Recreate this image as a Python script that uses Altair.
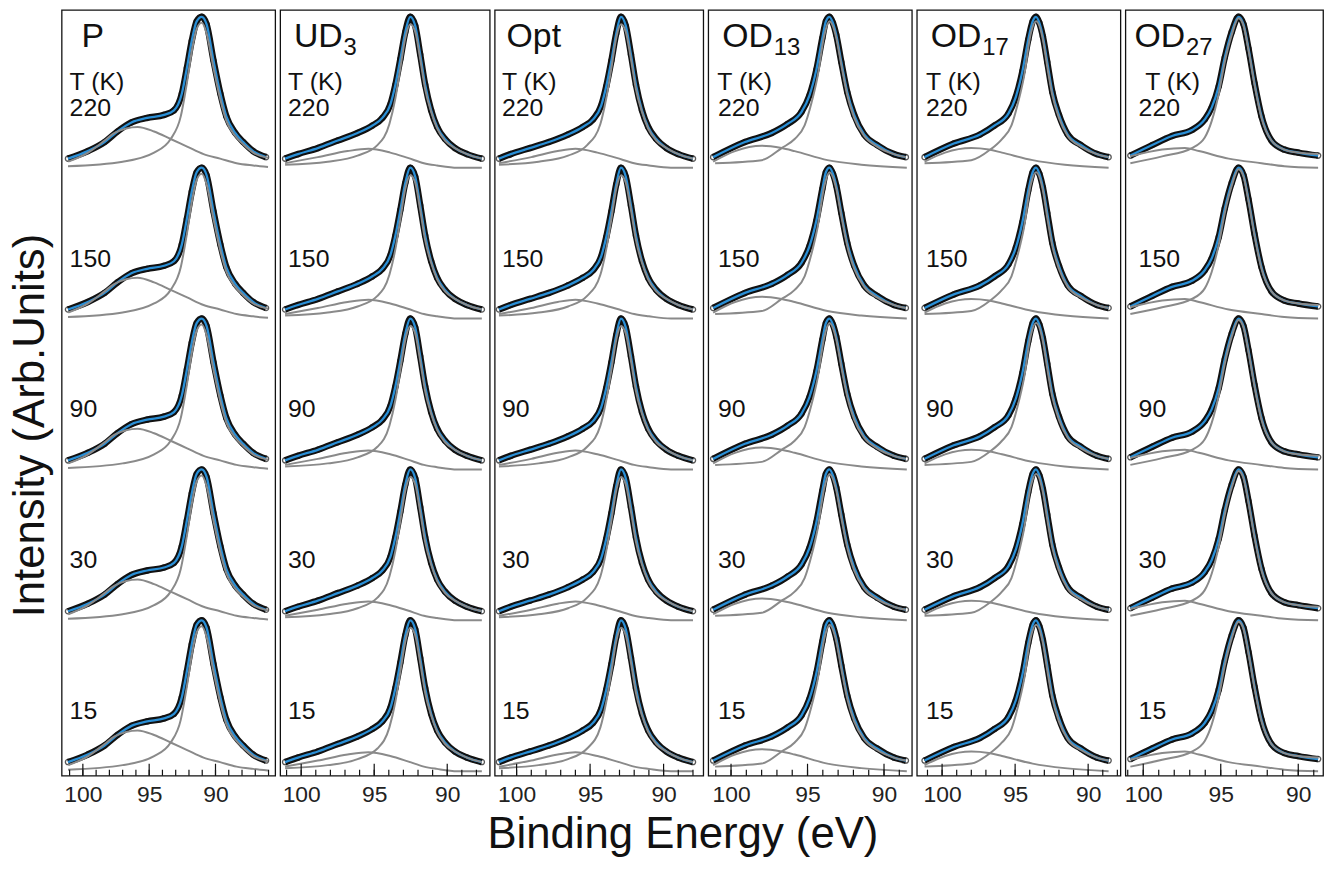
import altair as alt
import pandas as pd

# ---------------- data ----------------
temps = ["220", "150", "90", "30", "15"]
row_offsets = [4, 3, 2, 1, 0]

sample_names = ["P", "UD", "Opt", "OD", "OD", "OD"]
sample_subs = ["", "3", "", "13", "17", "27"]

# P
P_x = [101.12, 99.63, 98.36, 97.39, 96.34, 95.15, 93.88, 93.13, 92.54, 92.16, 91.79,
       91.42, 91.04, 90.67, 90.15, 89.63, 89.18, 88.51, 87.91, 87.16, 86.19]
P_fit = [0.06, 0.11, 0.17, 0.24, 0.30, 0.33, 0.35, 0.38, 0.49, 0.66, 0.84,
         0.97, 1.00, 0.95, 0.71, 0.49, 0.34, 0.23, 0.17, 0.11, 0.07]
P_main_x = [101.12, 97.0, 94.63, 93.38, 92.62, 92.16, 91.79, 91.42, 91.04, 90.67,
            90.15, 89.63, 89.18, 88.51, 87.91, 87.16, 86.04]
P_main = [0.01, 0.04, 0.10, 0.19, 0.34, 0.56, 0.77, 0.92, 0.96, 0.89,
          0.66, 0.45, 0.31, 0.21, 0.155, 0.10, 0.065]
P_broad_x = [101.1, 99.6, 98.36, 97.61, 95.87, 94.63, 93.38, 92.14, 90.9, 89.65, 88.41, 87.16, 86.04]
P_broad = [0.04, 0.10, 0.18, 0.23, 0.27, 0.24, 0.19, 0.14, 0.09, 0.06, 0.03, 0.015, 0.005]

# UD3
UD_x = [101.10, 100.22, 98.86, 97.50, 96.14, 95.12, 94.44, 93.89, 93.55, 93.21, 92.87,
        92.53, 92.19, 91.85, 91.51, 91.10, 90.69, 90.15, 89.47, 88.65, 87.63]
UD_fit = [0.06, 0.09, 0.13, 0.18, 0.23, 0.28, 0.33, 0.42, 0.55, 0.72, 0.90,
          1.00, 0.94, 0.75, 0.55, 0.38, 0.27, 0.19, 0.13, 0.09, 0.06]
UD_main_x = [101.10, 98.18, 96.14, 94.78, 93.96, 93.55, 93.21, 92.87, 92.53, 92.19,
             91.85, 91.51, 91.10, 90.69, 90.15, 89.47, 88.65, 87.63]
UD_main = [0.02, 0.04, 0.08, 0.15, 0.29, 0.46, 0.66, 0.86, 0.95, 0.90,
           0.72, 0.52, 0.37, 0.26, 0.18, 0.13, 0.09, 0.06]
UD_broad_x = [101.10, 98.86, 96.82, 95.40, 93.90, 92.70, 91.60, 90.70, 89.30, 87.63]
UD_broad = [0.03, 0.07, 0.11, 0.125, 0.10, 0.065, 0.03, 0.015, 0.0, 0.0]

# Opt
Opt_x = [101.20, 100.40, 99.10, 97.80, 96.50, 95.50, 94.80, 94.25, 93.90, 93.55, 93.22,
         92.90, 92.57, 92.22, 91.88, 91.47, 91.05, 90.50, 89.80, 89.00, 88.00]
Opt_fit = [0.06, 0.09, 0.13, 0.17, 0.22, 0.27, 0.32, 0.41, 0.54, 0.71, 0.89,
           1.00, 0.94, 0.75, 0.55, 0.38, 0.27, 0.19, 0.13, 0.09, 0.06]
Opt_main_x = [101.20, 98.5, 96.5, 95.2, 94.3, 93.9, 93.55, 93.22, 92.90, 92.57,
              92.22, 91.88, 91.47, 91.05, 90.50, 89.80, 89.00, 88.00]
Opt_main = [0.02, 0.04, 0.08, 0.15, 0.29, 0.46, 0.66, 0.86, 0.95, 0.90,
            0.72, 0.52, 0.37, 0.26, 0.18, 0.13, 0.09, 0.06]
Opt_broad_x = [101.2, 99.0, 97.2, 96.0, 94.5, 93.2, 92.0, 91.0, 89.5, 88.0]
Opt_broad = [0.03, 0.07, 0.11, 0.125, 0.10, 0.065, 0.03, 0.015, 0.0, 0.0]

# OD13
OD13_x = [101.17, 99.09, 97.34, 96.30, 95.39, 94.87, 94.42, 94.03, 93.80, 93.57,
          93.34, 93.12, 92.79, 92.40, 91.95, 91.30, 90.45, 89.35, 88.57]
OD13_fit = [0.07, 0.17, 0.23, 0.29, 0.37, 0.48, 0.65, 0.86, 0.97, 1.00,
            0.96, 0.88, 0.70, 0.50, 0.35, 0.22, 0.15, 0.09, 0.07]
OD13_main_x = [101.04, 97.99, 96.69, 95.84, 95.19, 94.74, 94.35, 93.90, 93.57,
               93.12, 92.79, 92.40, 91.95, 91.30, 90.45, 89.35, 88.57]
OD13_main = [0.03, 0.05, 0.13, 0.19, 0.28, 0.43, 0.60, 0.88, 0.97,
             0.86, 0.68, 0.48, 0.33, 0.21, 0.14, 0.09, 0.07]
OD13_broad_x = [101.17, 99.74, 97.99, 96.69, 95.84, 93.70, 91.49, 88.51]
OD13_broad = [0.04, 0.11, 0.145, 0.13, 0.11, 0.05, 0.02, 0.0]

# OD17
OD17_x = [101.2, 99.2, 97.4, 96.4, 95.45, 94.95, 94.5, 94.1, 93.8, 93.57,
          93.34, 93.1, 92.8, 92.45, 92.0, 91.4, 90.5, 89.4, 88.6]
OD17_fit = [0.07, 0.16, 0.22, 0.28, 0.36, 0.47, 0.64, 0.85, 0.97, 1.00,
            0.96, 0.87, 0.70, 0.50, 0.35, 0.22, 0.15, 0.09, 0.07]
OD17_main_x = [101.2, 98.0, 96.7, 95.9, 95.25, 94.8, 94.4, 93.95, 93.57,
               93.1, 92.8, 92.45, 92.0, 91.4, 90.5, 89.4, 88.6]
OD17_main = [0.03, 0.05, 0.12, 0.19, 0.28, 0.43, 0.60, 0.88, 0.97,
             0.85, 0.67, 0.48, 0.33, 0.21, 0.14, 0.09, 0.07]
OD17_broad_x = [101.2, 99.8, 98.0, 96.8, 95.9, 93.8, 91.6, 88.6]
OD17_broad = [0.04, 0.10, 0.13, 0.12, 0.10, 0.05, 0.02, 0.0]

# OD27
OD27_x = [100.83, 99.42, 98.14, 96.86, 96.03, 95.58, 95.13, 94.74, 94.29, 93.85,
          93.53, 93.21, 92.82, 92.37, 91.73, 90.90, 90.00, 88.72]
OD27_fit = [0.08, 0.15, 0.21, 0.25, 0.32, 0.40, 0.54, 0.73, 0.90, 1.00,
            0.95, 0.79, 0.56, 0.34, 0.18, 0.12, 0.10, 0.08]
OD27_main_x = [100.83, 98.78, 96.86, 96.03, 95.58, 95.13, 94.74, 94.29, 93.85,
               93.53, 93.21, 92.82, 92.37, 91.73, 90.90, 90.00, 88.72]
OD27_main = [0.03, 0.075, 0.13, 0.20, 0.31, 0.49, 0.70, 0.88, 0.99,
             0.94, 0.78, 0.55, 0.33, 0.18, 0.12, 0.10, 0.09]
OD27_broad_x = [100.83, 98.78, 97.31, 96.41, 94.49, 92.37, 90.90, 88.72]
OD27_broad = [0.075, 0.12, 0.13, 0.11, 0.06, 0.03, 0.01, 0.0]

x_label_values = [100, 95, 90]
minor_tick_values = [86, 87, 88, 89, 90, 91, 92, 93, 94, 95, 96, 97, 98, 99, 100, 101]
major_tick_values = [100, 95, 90]

# ---------------- layout settings ----------------
H = 771
Y_DOM = [-0.03, 5.046]
FONT = "Liberation Sans"
BLUE = "#2a8fd6"
GRAY = "#8a8a8a"
INK = "#111111"

panel_specs = [
    dict(dom=[101.6, 85.5], w=215, x=P_x, fit=P_fit, mx=P_main_x, m=P_main, bx=P_broad_x, b=P_broad,
         lab_ev=100.1, tk_ev=101.0, t_ev=101.0, subdx=0),
    dict(dom=[101.44, 87.09], w=211, x=UD_x, fit=UD_fit, mx=UD_main_x, m=UD_main, bx=UD_broad_x, b=UD_broad,
         lab_ev=100.5, tk_ev=100.9, t_ev=100.9, subdx=50),
    dict(dom=[101.49, 87.30], w=210, x=Opt_x, fit=Opt_fit, mx=Opt_main_x, m=Opt_main, bx=Opt_broad_x, b=Opt_broad,
         lab_ev=100.68, tk_ev=101.0, t_ev=101.0, subdx=0),
    dict(dom=[101.49, 88.18], w=205, x=OD13_x, fit=OD13_fit, mx=OD13_main_x, m=OD13_main, bx=OD13_broad_x, b=OD13_broad,
         lab_ev=100.58, tk_ev=100.9, t_ev=100.85, subdx=52),
    dict(dom=[101.73, 87.79], w=205, x=OD17_x, fit=OD17_fit, mx=OD17_main_x, m=OD17_main, bx=OD17_broad_x, b=OD17_broad,
         lab_ev=100.78, tk_ev=101.1, t_ev=101.1, subdx=52),
    dict(dom=[101.15, 88.40], w=199, x=OD27_x, fit=OD27_fit, mx=OD27_main_x, m=OD27_main, bx=OD27_broad_x, b=OD27_broad,
         lab_ev=100.57, tk_ev=99.87, t_ev=100.3, subdx=52),
]


def make_panel(i):
    p = panel_specs[i]
    fit_rows, comp_rows = [], []
    for t, off in zip(temps, row_offsets):
        for ev, v in zip(p["x"], p["fit"]):
            fit_rows.append(dict(ev=ev, v=v + off, T=t))
        for ev, v in zip(p["mx"], p["m"]):
            comp_rows.append(dict(ev=ev, v=v + off, T=t, comp="main"))
        for ev, v in zip(p["bx"], p["b"]):
            comp_rows.append(dict(ev=ev, v=v + off, T=t, comp="broad"))
    fit_df = pd.DataFrame(fit_rows)
    comp_df = pd.DataFrame(comp_rows)

    xs = alt.X("ev:Q", title=None,
               scale=alt.Scale(domain=p["dom"], nice=False, zero=False),
               axis=alt.Axis(values=x_label_values, ticks=False, domain=False, grid=False,
                             labelFontSize=23, labelPadding=8, labelColor="#222",
                             labelFont=FONT, labelFlush=False))
    if i == 0:
        yaxis = alt.Axis(title="Intensity (Arb.Units)", labels=False, ticks=False, domain=False,
                         grid=False, titleFontSize=44, titleFontWeight="normal", titleFont=FONT,
                         titleColor=INK, titlePadding=9, titleY=418, minExtent=0)
    else:
        yaxis = None
    ys = alt.Y("v:Q", scale=alt.Scale(domain=Y_DOM, nice=False, zero=False), axis=yaxis)
    order = alt.Order("ev:Q", sort="descending")

    band = alt.Chart(fit_df).mark_line(color=INK, strokeWidth=6.5, interpolate="monotone").encode(
        x=xs, y=ys, detail="T:N", order=order)
    pts = alt.Chart(fit_df).mark_point(shape="circle", filled=False, color=INK, size=28,
                                       strokeWidth=1.3).encode(x=xs, y=ys)
    fit = alt.Chart(fit_df).mark_line(color=BLUE, strokeWidth=2.3, interpolate="monotone").encode(
        x=xs, y=ys, detail="T:N", order=order)
    comps = alt.Chart(comp_df).mark_line(color=GRAY, strokeWidth=2, interpolate="monotone").encode(
        x=xs, y=ys, detail=["T:N", "comp:N"], order=order)

    lab_df = pd.DataFrame([dict(ev=p["lab_ev"], v=4.80, text=sample_names[i])])
    lab = alt.Chart(lab_df).mark_text(align="left", baseline="alphabetic", fontSize=34, font=FONT,
                                      color=INK).encode(x=xs, y=ys, text="text:N")
    layers = [band, pts, fit, comps, lab]
    if sample_subs[i]:
        sub_df = pd.DataFrame([dict(ev=p["lab_ev"], v=4.80, text=sample_subs[i])])
        layers.append(alt.Chart(sub_df).mark_text(align="left", baseline="alphabetic", fontSize=24,
                                                  font=FONT, color=INK, dx=p["subdx"], dy=8)
                      .encode(x=xs, y=ys, text="text:N"))
    tk_df = pd.DataFrame([dict(ev=p["tk_ev"], v=4.513, text="T (K)")])
    layers.append(alt.Chart(tk_df).mark_text(align="left", baseline="alphabetic", fontSize=25,
                                             font=FONT, color=INK).encode(x=xs, y=ys, text="text:N"))
    temp_df = pd.DataFrame([dict(ev=p["t_ev"], v=off + 0.345, text=t) for t, off in zip(temps, row_offsets)])
    layers.append(alt.Chart(temp_df).mark_text(align="left", baseline="alphabetic", fontSize=25,
                                               font=FONT, color=INK).encode(x=xs, y=ys, text="text:N"))

    lo, hi = min(p["dom"]), max(p["dom"])
    minor_df = pd.DataFrame({"ev": [t for t in minor_tick_values if lo < t < hi]})
    major_df = pd.DataFrame({"ev": [t for t in major_tick_values if lo < t < hi]})
    layers.append(alt.Chart(minor_df).mark_rule(color=INK, strokeWidth=1.2).encode(
        x=xs, y=alt.value(H), y2=alt.value(H - 6)))
    layers.append(alt.Chart(major_df).mark_rule(color=INK, strokeWidth=1.2).encode(
        x=xs, y=alt.value(H), y2=alt.value(H - 12)))

    return alt.layer(*layers).properties(width=p["w"], height=H)


panels = [make_panel(i) for i in range(6)]


def build(pad_top, pad_right, title_offset):
    return alt.hconcat(*panels, spacing=5, bounds="flush").properties(
        padding={"left": 0, "top": pad_top, "right": pad_right, "bottom": 0},
        title=alt.TitleParams("Binding Energy (eV)", orient="bottom", anchor="middle", fontSize=44,
                              fontWeight="normal", font=FONT, color=INK, offset=title_offset, dx=13),
    ).configure_view(stroke=INK, strokeWidth=1.3)


try:
    chart = build(-8, 0, 6)
    chart.to_dict()
except Exception:
    chart = build(0, 0, 0)

chart.save("out.html", embed_options={"renderer": "svg", "actions": False})
